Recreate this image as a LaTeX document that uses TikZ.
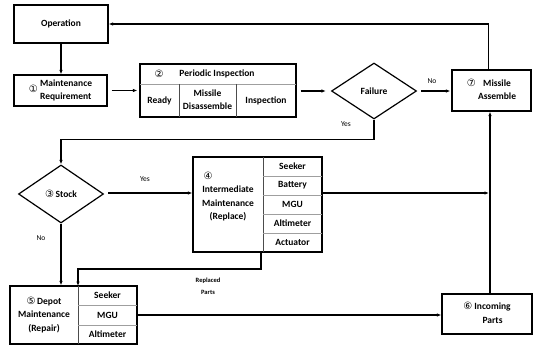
\documentclass[tikz,border=0pt]{standalone}
\usepackage{fontspec}
\setmainfont{Carlito}
\newfontfamily\circf{DejaVu Sans}
\usetikzlibrary{arrows.meta,shapes.geometric}
\newcommand{\cnum}[1]{{\circf\fontsize{10}{10}\selectfont\mdseries #1}}
\begin{document}
\begin{tikzpicture}[x=1pt,y=-1pt,
  font=\fontsize{9.5}{13.5}\selectfont\bfseries,
  box/.style={draw, line width=1.2pt, inner sep=0pt, rectangle},
  dmd/.style={draw, diamond, line width=1.2pt, inner sep=0pt, aspect=1.5},
  grid/.style={draw=gray!75, line width=0.6pt},
  vgrid/.style={draw=black!70, line width=0.8pt},
  conn/.style={line width=1.2pt, -{Latex[length=4.5pt,width=3.5pt]}},
  lbl/.style={font=\fontsize{7.5}{8}\selectfont\mdseries},
  small/.style={font=\fontsize{6.5}{11.5}\selectfont\bfseries, align=center},
  txt/.style={inner sep=0pt}]
\useasboundingbox (0,0) rectangle (533,345);

% boxes
\node[box, minimum width=94pt, minimum height=38pt] (op) at (61,24) {Operation};
\node[box, minimum width=93pt, minimum height=31pt] (mr) at (60.5,90.5)
  {\cnum{①}\ \begin{tabular}{@{}l@{}}Maintenance\\Requirement\end{tabular}};
\node[box, minimum width=156pt, minimum height=53pt] (pi) at (218,90.5) {};
\node[dmd, minimum width=85pt, minimum height=56pt] (fail) at (374,91) {Failure};
\node[box, minimum width=79pt, minimum height=41pt] (ma) at (491.5,90.5)
  {\begin{tabular}{@{}l@{\ }c@{}}\cnum{⑦} & Missile\\ & Assemble\end{tabular}};
\node[dmd, minimum width=85pt, minimum height=58pt] (stock) at (61,194) {\cnum{③}\,Stock};
\node[box, minimum width=129pt, minimum height=95pt] (im) at (257.5,204.5) {};
\node[box, minimum width=127pt, minimum height=58pt] (dep) at (73.5,315) {};
\node[box, minimum width=90pt, minimum height=40pt] (inc) at (487,314)
  {\begin{tabular}{@{}l@{\ }c@{}}\cnum{⑥} & Incoming\\ & Parts\end{tabular}};

% periodic inspection inner
\draw[grid] (140,84) -- (296,84);
\draw[vgrid] (179,84) -- (179,117);
\draw[vgrid] (236,84) -- (236,117);
\node[txt] (pin) at (159,74) {\cnum{②}};
\node[txt] (pit) at (217,74) {Periodic Inspection};
\node[txt] (pr) at (159.5,100.5) {Ready};
\node[txt] (pd) at (207.5,100.5) {\begin{tabular}{@{}c@{}}Missile\\Disassemble\end{tabular}};
\node[txt] (pc) at (266,100.5) {Inspection};

% intermediate inner
\draw[vgrid] (263,157) -- (263,252);
\foreach \yy in {176,195,214,233} \draw[grid] (263,\yy) -- (322,\yy);
\node[txt] (imt) at (228,197)
  {\begin{tabular}{@{}c@{}}\multicolumn{1}{@{}l@{}}{\,\cnum{④}}\\Intermediate\\Maintenance\\(Replace)\end{tabular}};
\node[txt] (i1) at (292.5,166.5) {Seeker};
\node[txt] (i2) at (292.5,185.5) {Battery};
\node[txt] (i3) at (292.5,204.5) {MGU};
\node[txt] (i4) at (292.5,223.5) {Altimeter};
\node[txt] (i5) at (292.5,242.5) {Actuator};

% depot inner
\draw[vgrid] (78,286) -- (78,344);
\foreach \yy in {305,325} \draw[grid] (78,\yy) -- (137,\yy);
\node[txt] (dpt) at (44,315)
  {\begin{tabular}{@{}c@{}}\cnum{⑤}\,Depot\\Maintenance\\(Repair)\end{tabular}};
\node[txt] (d1) at (107.5,295.5) {Seeker};
\node[txt] (d2) at (107.5,315) {MGU};
\node[txt] (d3) at (107.5,334.5) {Altimeter};

% coordinates
\coordinate (depdiv) at (78,286);
\coordinate (imstub) at (261,252);
\coordinate (vx) at (490,193);

% connectors
\draw[conn] (op.south) -- (op.south |- mr.north);
\draw[conn, shorten <=4pt, shorten >=2pt] (mr.east) -- (mr.east -| pi.west);
\draw[conn, shorten <=4pt, shorten >=5pt] (pi.east |- fail.west) -- (fail.west);
\draw[conn, shorten <=4pt, shorten >=1pt] (fail.east) -- (fail.east -| ma.west);
\node[lbl] (no1) at (432,81) {No};
\draw[conn] ([xshift=-3pt]ma.north) |- (op.east);
\draw[conn] (fail.south) -- ++(0,20) -| (stock.north);
\node[lbl] (yes1) at (346,124) {Yes};
\draw[conn, shorten <=4pt] (stock.east |- vx) -- (im.west |- vx);
\node[lbl] (yes2) at (145,179) {Yes};
\draw[conn] (stock.south) -- (stock.south |- dep.north);
\node[lbl] (no2) at (41,238) {No};
\draw[conn] (imstub) -- ++(0,17) -| (depdiv);
\node[small] (rp) at (208,286) {Replaced\\Parts};
\draw[conn, shorten >=1pt] (im.east |- vx) -- (vx);
\draw[conn] (inc.north -| vx) -- (ma.south -| vx);
\draw[conn] (dep.east |- d2) -- (inc.west |- d2);
\end{tikzpicture}
\end{document}
